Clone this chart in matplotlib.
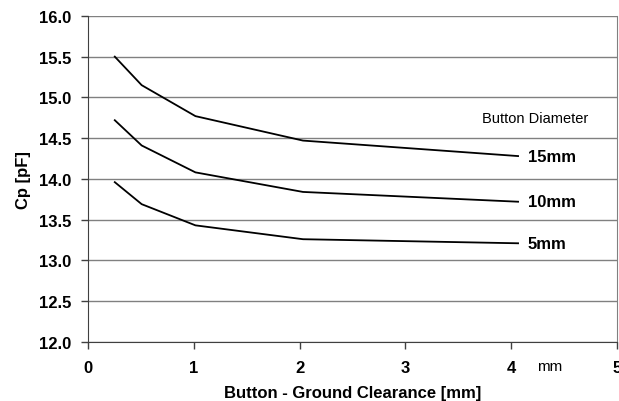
import matplotlib.pyplot as plt

# clearance values (0.01", 0.02", 0.04", 0.08", 0.16" in mm)
clearance = [0.254, 0.508, 1.016, 2.032, 4.064]
cp_15mm = [15.50, 15.15, 14.77, 14.47, 14.28]
cp_10mm = [14.72, 14.41, 14.08, 13.84, 13.72]
cp_5mm = [13.96, 13.69, 13.43, 13.26, 13.21]
series = [("15mm", cp_15mm), ("10mm", cp_10mm), ("5mm", cp_5mm)]

plt.rcParams['font.family'] = ['Liberation Sans', 'DejaVu Sans']

fig = plt.figure(figsize=(6.19, 4.02), dpi=100)
ax = fig.add_axes([0.142, 0.147, 0.855, 0.811])

for label, vals in series:
    ax.plot(clearance, vals, color='black', lw=1.3)
    ax.text(clearance[-1] + 0.09, vals[-1], label, fontsize=12, fontweight='bold',
            va='center', ha='left')

ax.text(3.72, 14.75, "Button Diameter", fontsize=10.5, va='center', ha='left')

ax.set_xlim(0, 5)
ax.set_ylim(12.0, 16.0)
ax.set_xticks([0, 1, 2, 3, 4, 5])
ax.set_yticks([12.0 + 0.5 * i for i in range(9)])
ax.set_yticklabels([f"{12.0 + 0.5 * i:.1f}" for i in range(9)])
ax.yaxis.grid(True, color='#808080', lw=1)
ax.set_axisbelow(True)

for lbl in ax.get_xticklabels() + ax.get_yticklabels():
    lbl.set_fontweight('bold')
    lbl.set_fontsize(12)

ax.tick_params(axis='both', direction='out', length=5, width=1, color='#404040')
ax.tick_params(axis='y', pad=7)
ax.tick_params(axis='x', pad=8)

ax.spines['top'].set_visible(False)
ax.spines['left'].set_color('#404040')
ax.spines['bottom'].set_color('#404040')
ax.spines['right'].set_color('#808080')

ax.text(4.36, -0.073, "mm", transform=ax.get_xaxis_transform(), fontsize=11,
        ha='center', va='center')

ax.set_xlabel("Button - Ground Clearance [mm]", fontsize=12, fontweight='bold', labelpad=7)
ax.set_ylabel("Cp [pF]", fontsize=12, fontweight='bold', labelpad=6)

fig.savefig("out.png", dpi=100)
